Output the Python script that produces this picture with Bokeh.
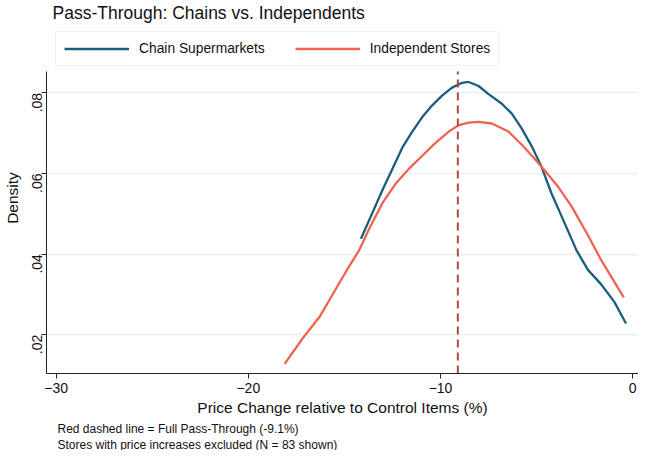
from bokeh.plotting import figure
from bokeh.models import Range1d, FixedTicker, Legend, LegendItem
from bokeh.models import Title
from bokeh.embed import file_html
from bokeh.resources import INLINE

# Data
chain_x = [-14.14, -13.54, -13.02, -12.50, -11.99, -11.47, -10.95, -10.43, -9.92,
           -9.40, -8.88, -8.54, -8.02, -7.50, -6.81, -6.30, -5.78, -5.26, -4.74,
           -4.23, -3.71, -2.93, -2.33, -1.64, -0.95, -0.35]
chain_y = [0.0438, 0.0503, 0.0559, 0.0612, 0.0664, 0.0704, 0.0740, 0.0769, 0.0793,
           0.0813, 0.0825, 0.0827, 0.0817, 0.0797, 0.0773, 0.0749, 0.0712, 0.0668,
           0.0616, 0.0551, 0.0495, 0.0410, 0.0361, 0.0325, 0.0281, 0.0228]
indep_x = [-18.11, -17.16, -16.30, -15.26, -14.66, -14.23, -13.71, -13.02, -12.33,
           -11.64, -10.95, -10.26, -9.57, -9.05, -8.54, -8.02, -7.33, -6.47, -5.78,
           -5.09, -4.57, -3.88, -3.19, -2.33, -1.64, -0.47]
indep_y = [0.0128, 0.0192, 0.0244, 0.0329, 0.0377, 0.0410, 0.0463, 0.0527, 0.0575,
           0.0612, 0.0644, 0.0676, 0.0704, 0.0720, 0.0726, 0.0728, 0.0724, 0.0704,
           0.0672, 0.0636, 0.0607, 0.0567, 0.0519, 0.0447, 0.0385, 0.0293]
full_pass_through = -9.1
x_ticks = [-30, -20, -10, 0]
y_ticks = [0.02, 0.04, 0.06, 0.08]
y_tick_labels = [".02", ".04", ".06", ".08"]
series_names = ["Chain Supermarkets", "Independent Stores"]
title_text = "Pass-Through: Chains vs. Independents"
x_label = "Price Change relative to Control Items (%)"
y_label = "Density"
notes = ["Red dashed line = Full Pass-Through (-9.1%)",
         "Stores with price increases excluded (N = 83 shown)"]

FONT = "Liberation Sans"
BLUE = "#1b5e7b"
CORAL = "#ef6451"
DASH = "#b04a3f"

# layout: the frame also holds the legend band above the plotted area
FRAME_W = 592
FRAME_H = 351
Y_LOW = 0.0104          # bottom of the plotted area
Y_AXIS_TOP = 0.0853     # top of the plotted area (axis line ends here)
TOP_BAND_PX = 49        # pixels between frame top and plotted area top
k = (FRAME_H - TOP_BAND_PX) / (Y_AXIS_TOP - Y_LOW)
Y_HIGH = Y_AXIS_TOP + TOP_BAND_PX / k

p = figure(frame_width=FRAME_W, frame_height=FRAME_H, output_backend="svg",
           toolbar_location=None,
           x_range=Range1d(-30.5, 0.3), y_range=Range1d(Y_LOW, Y_HIGH),
           min_border_left=44, min_border_right=0, min_border_top=18,
           min_border_bottom=0, background_fill_color="white",
           border_fill_color="white", outline_line_color=None)

p.title.text = title_text
p.title.text_font = FONT
p.title.text_font_size = "17.5px"
p.title.text_font_style = "normal"
p.title.text_color = "#111111"
p.title.offset = 6
p.title.standoff = 0

r1 = p.line(chain_x, chain_y, line_color=BLUE, line_width=2.3)
r2 = p.line(indep_x, indep_y, line_color=CORAL, line_width=2.3)
p.segment(x0=[full_pass_through], y0=[Y_LOW], x1=[full_pass_through],
          y1=[Y_AXIS_TOP], line_color=DASH, line_width=2, line_dash="8 5")

legend = Legend(items=[LegendItem(label=series_names[0], renderers=[r1]),
                       LegendItem(label=series_names[1], renderers=[r2])],
                orientation="horizontal",
                location=(9, FRAME_H - TOP_BAND_PX + 5),
                label_text_font=FONT, label_text_font_size="13.8px",
                label_text_color="#111111",
                glyph_width=65, glyph_height=17, label_height=17,
                label_standoff=10, spacing=30, padding=8, margin=0,
                border_line_color="#dde6ea", border_line_width=1,
                background_fill_color="white")
p.add_layout(legend)

# axes
for ax in (p.xaxis[0], p.yaxis[0]):
    ax.axis_line_color = "#222222"
    ax.axis_line_width = 1
    ax.major_tick_line_color = "#222222"
    ax.major_tick_out = 5
    ax.major_tick_in = 0
    ax.minor_tick_line_color = None
    ax.major_label_text_font = FONT
    ax.major_label_text_font_size = "14px"
    ax.major_label_text_color = "#111111"
    ax.axis_label_text_font = FONT
    ax.axis_label_text_font_size = "15.5px"
    ax.axis_label_text_font_style = "normal"
    ax.axis_label_text_color = "#111111"

p.xaxis.ticker = FixedTicker(ticks=x_ticks)
p.xaxis.axis_label = x_label
p.xaxis.axis_label_standoff = 3
p.xaxis.major_label_standoff = 4

p.yaxis.ticker = FixedTicker(ticks=y_ticks)
p.yaxis.bounds = (Y_LOW, Y_AXIS_TOP)
p.yaxis.major_label_overrides = {t: l for t, l in zip(y_ticks, y_tick_labels)}
p.yaxis.major_label_orientation = 3.14159265 / 2
p.yaxis.axis_label = y_label
p.yaxis.axis_label_standoff = 4
p.yaxis.major_label_standoff = 4

p.xgrid.grid_line_color = None
p.ygrid.grid_line_color = "#e9f0f2"
p.ygrid.grid_line_width = 1.5
p.ygrid.ticker = FixedTicker(ticks=y_ticks)

for i, note in enumerate(notes):
    p.add_layout(Title(text=note, align="left", text_font=FONT,
                       text_font_size="12px", text_font_style="normal",
                       text_color="#111111", offset=11,
                       standoff=2 if i == 0 else -2), "below")

open("out.html", "w").write(file_html(p, INLINE))
